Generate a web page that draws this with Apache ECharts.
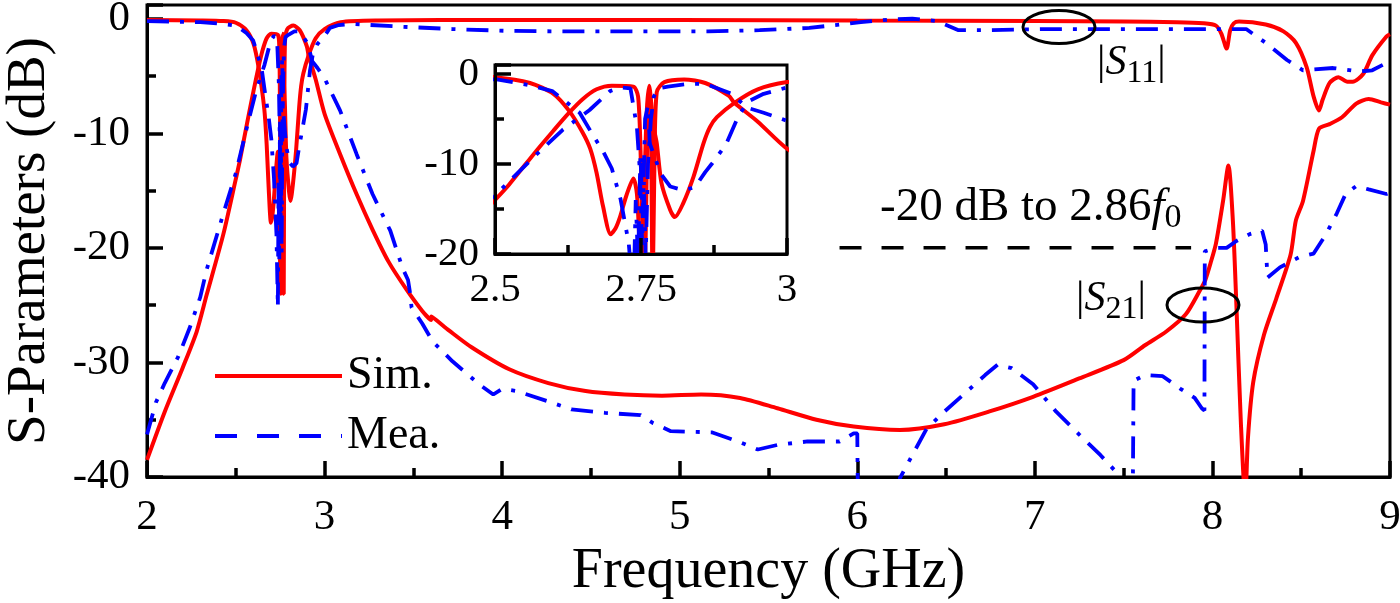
<!DOCTYPE html>
<html>
<head>
<meta charset="utf-8">
<script src="https://cdn.jsdelivr.net/npm/echarts@6/dist/echarts.min.js"></script>
<style>
  html, body { margin: 0; padding: 0; background: #fff; }
  #chart { width: 1400px; height: 603px; }
</style>
</head>
<body>
<div id="chart"></div>
<script>
// 1. data: [frequency GHz, dB]
const simS11 = [
  [2.0,-0.1],[2.3,-0.15],[2.43,-0.2],[2.5,-0.35],[2.56,-1.0],[2.6,-2.2],[2.627,-4.1],[2.65,-6.5],
  [2.663,-8.3],[2.674,-11.0],[2.685,-14.7],[2.698,-17.8],[2.706,-17.2],[2.714,-15.9],[2.725,-13.5],
  [2.737,-11.6],[2.743,-13.3],[2.748,-19.6],[2.752,-23.5],[2.756,-12],[2.76,-4],[2.764,-1.3],
  [2.768,-3.5],[2.772,-6],[2.777,-7.7],[2.785,-12.1],[2.8,-15.1],[2.808,-15.9],[2.822,-14.4],
  [2.84,-11.4],[2.857,-7.7],[2.868,-5.9],[2.88,-4.8],[2.91,-3.2],[2.95,-1.7],[3.0,-0.9],[3.09,-0.3],
  [3.3,-0.15],[4.0,-0.1],[5.0,-0.1],[6.0,-0.15],[7.0,-0.2],[7.5,-0.25],[7.8,-0.3],[7.95,-0.4],
  [8.02,-0.6],[8.05,-1.3],[8.08,-2.6],[8.1,-1.0],[8.12,-0.4],[8.15,-0.25],[8.3,-0.5],[8.4,-1.1],
  [8.47,-2.1],[8.53,-4.2],[8.57,-6.8],[8.6,-8.0],[8.62,-7.1],[8.66,-5.6],[8.71,-5.1],[8.76,-5.5],
  [8.79,-5.5],[8.85,-4.8],[8.9,-3.2],[8.98,-1.55],[9.0,-1.35]
];
const simS21 = [
  [2.0,-38.5],[2.1,-34.3],[2.2,-30.5],[2.28,-27.3],[2.336,-24.1],[2.43,-18.8],[2.5,-14.0],
  [2.524,-12.3],[2.57,-8.6],[2.6,-6.3],[2.627,-4.3],[2.65,-2.8],[2.674,-1.7],[2.7,-1.3],[2.737,-1.4],
  [2.745,-2.5],[2.749,-8],[2.752,-16],[2.755,-24],[2.758,-18],[2.761,-6],[2.764,-1.5],[2.767,-6],
  [2.77,-24],[2.773,-10],[2.777,-2.0],[2.79,-0.9],[2.824,-0.6],[2.86,-1.0],[2.9,-2.4],[2.91,-3.2],
  [2.95,-5.3],[3.0,-8.3],[3.087,-11.8],[3.18,-15.3],[3.27,-18.4],[3.36,-21.2],[3.46,-23.6],
  [3.55,-25.5],[3.6,-26.3],[3.601,-26.0],[3.7,-27.2],[3.83,-28.7],[4.04,-30.6],[4.26,-31.8],
  [4.47,-32.5],[4.69,-32.8],[4.9,-32.9],[5.12,-32.8],[5.34,-33.1],[5.55,-34.0],[5.77,-35.0],
  [5.98,-35.6],[6.24,-35.9],[6.49,-35.4],[6.74,-34.3],[6.99,-33.0],[7.25,-31.4],[7.5,-29.8],
  [7.62,-28.5],[7.74,-27.3],[7.85,-25.8],[7.93,-23.7],[7.96,-22.8],[7.99,-21.3],[8.02,-19.6],
  [8.06,-15.9],[8.09,-12.8],[8.115,-17.6],[8.135,-25],[8.16,-35.2],[8.185,-42],[8.2,-36.6],
  [8.23,-31.7],[8.29,-27.6],[8.36,-24.4],[8.44,-20.6],[8.47,-17.6],[8.51,-15.9],[8.57,-11.5],
  [8.6,-9.6],[8.66,-9.2],[8.73,-8.6],[8.81,-7.4],[8.88,-7.0],[8.95,-7.3],[9.0,-7.5]
];
const meaS11 = [
  [2.0,-0.2],[2.3,-0.3],[2.43,-0.45],[2.503,-0.6],[2.56,-1.25],[2.598,-1.9],[2.62,-3.0],[2.645,-4.3],
  [2.665,-6.5],[2.686,-8.7],[2.7,-10.5],[2.715,-13.9],[2.729,-18.8],[2.737,-25.2],[2.741,-14],
  [2.745,-21],[2.749,-9],[2.753,-16],[2.757,-5],[2.762,-3.5],[2.765,-7.7],[2.775,-9.5],[2.783,-11],
  [2.8,-12.5],[2.822,-12.9],[2.842,-12.6],[2.86,-10.9],[2.871,-10],[2.895,-7.9],[2.918,-4.5],
  [2.935,-3.0],[2.96,-2.2],[3.0,-1.5],[3.03,-0.8],[3.08,-0.55],[3.15,-0.45],[3.44,-0.7],[3.72,-0.9],
  [4.01,-1.05],[4.3,-1.1],[4.87,-1.1],[5.16,-1.1],[5.45,-1.0],[5.73,-0.8],[6.02,-0.3],[6.2,-0.05],
  [6.31,0.0],[6.45,-0.2],[6.57,-1.0],[6.74,-1.0],[7.03,-0.9],[7.34,-0.9],[7.83,-0.9],[8.19,-0.9],
  [8.3,-2.1],[8.42,-3.6],[8.51,-4.5],[8.68,-4.3],[8.83,-4.6],[8.9,-4.5],[9.0,-3.7]
];
const meaS21 = [
  [2.0,-36.3],[2.05,-33.5],[2.1,-31.8],[2.176,-29.5],[2.24,-27.0],[2.3,-24.3],[2.336,-21.9],
  [2.43,-17.0],[2.5,-13.5],[2.57,-9.0],[2.616,-6.2],[2.662,-4.0],[2.697,-1.9],[2.715,-1.5],
  [2.732,-1.6],[2.743,-5.9],[2.748,-10.7],[2.752,-19],[2.755,-12],[2.758,-20.5],[2.762,-10],
  [2.767,-5],[2.772,-2.5],[2.78,-1.6],[2.796,-1.4],[2.83,-1.1],[2.86,-1.1],[2.906,-2.2],[2.93,-3.7],
  [2.96,-4.3],[3.0,-5.2],[3.087,-8.0],[3.18,-11.8],[3.27,-15.3],[3.37,-18.5],[3.44,-21.8],
  [3.47,-22.8],[3.48,-23.8],[3.49,-25.2],[3.55,-26.6],[3.61,-28.2],[3.72,-29.9],[3.87,-31.9],
  [3.95,-32.8],[4.0,-32.3],[4.08,-32.5],[4.26,-33.4],[4.39,-34.1],[4.58,-34.4],[4.78,-34.6],
  [4.85,-35.3],[4.95,-36.0],[5.18,-36.1],[5.33,-36.9],[5.44,-37.6],[5.55,-37.2],[5.72,-36.9],
  [5.9,-36.9],[5.98,-36.2],[6.0,-36.2],[6.005,-45],[6.235,-45],[6.24,-40.1],[6.32,-37.8],
  [6.39,-35.8],[6.49,-34.3],[6.62,-32.5],[6.72,-31.1],[6.79,-30.2],[6.87,-30.5],[6.99,-31.9],
  [7.12,-34.3],[7.25,-36.3],[7.37,-38.1],[7.46,-39.6],[7.475,-45],[7.55,-45],[7.556,-31.6],
  [7.62,-31.1],[7.72,-31.2],[7.82,-32.3],[7.9,-33.1],[7.94,-34.0],[7.955,-34.2],[7.957,-20.3],
  [8.02,-20.0],[8.08,-20.0],[8.135,-19.4],[8.21,-18.8],[8.28,-18.5],[8.3,-19.7],[8.31,-22.6],
  [8.38,-21.7],[8.49,-20.8],[8.57,-20.5],[8.64,-18.8],[8.7,-17.0],[8.75,-15.3],[8.81,-14.6],
  [8.88,-14.9],[8.98,-15.3],[9.0,-15.2]
];
// -20 dB guide line, from / to
const boundLine = [[5.9, -20], [7.88, -20]];

// axis ranges
const mainX = [2, 9], mainY = [-40, 1.2];
const insetX = [2.5, 3], insetY = [-20, 1];

const FONT = 'Liberation Serif';
const RED = '#ff0000', BLUE = '#0000ff';

// 2. helpers
function axisCommon(fs) {
  return {
    axisLine: { show: true, onZero: false, lineStyle: { color: '#000', width: 3 } },
    axisTick: { show: true, inside: true, length: 16, lineStyle: { color: '#000', width: 3.5 } },
    minorTick: { show: true, splitNumber: 2, length: 9, lineStyle: { color: '#000', width: 3.5 } },
    splitLine: { show: false },
    axisLabel: { color: '#000', fontFamily: FONT, fontSize: fs }
  };
}
function yLabel(v) {
  return (Math.abs(v % 10) < 1e-9) ? String(v) : '';
}
function simLine(data, idx) {
  return { name: 'Sim.', type: 'line', data: data, xAxisIndex: idx, yAxisIndex: idx,
    symbol: 'none', clip: true, z: idx ? 6 : 3, smooth: 0.25,
    lineStyle: { color: RED, width: 4 }, itemStyle: { color: RED } };
}
function meaLine(data, idx) {
  return { name: 'Mea.', type: 'line', data: data, xAxisIndex: idx, yAxisIndex: idx,
    symbol: 'none', clip: true, z: idx ? 7 : 4,
    lineStyle: { color: BLUE, width: 3.8, type: [22, 11, 4, 11] }, itemStyle: { color: BLUE } };
}
function richText(size, sub, subPad) {
  return {
    n: { fontFamily: FONT, fontSize: size, fill: '#000', verticalAlign: 'top' },
    i: { fontFamily: FONT, fontSize: size, fontStyle: 'italic', fill: '#000', verticalAlign: 'top' },
    s: { fontFamily: FONT, fontSize: sub, fill: '#000', verticalAlign: 'top', padding: [subPad, 0, 0, 0] }
  };
}

const chart = echarts.init(document.getElementById('chart'), null, { renderer: 'canvas' });

const xMain = Object.assign(axisCommon(43), {
  type: 'value', gridIndex: 0, position: 'bottom',
  min: mainX[0], max: mainX[1], interval: 1,
  name: 'Frequency (GHz)', nameLocation: 'middle', nameGap: 65,
  nameTextStyle: { color: '#000', fontFamily: FONT, fontSize: 56 }
});
xMain.axisLabel.margin = 19;
const yMain = Object.assign(axisCommon(43), {
  type: 'value', gridIndex: 0, position: 'left',
  min: mainY[0], max: mainY[1], interval: 10,
  name: 'S-Parameters (dB)', nameLocation: 'middle', nameGap: 90, nameRotate: 90,
  nameTextStyle: { color: '#000', fontFamily: FONT, fontSize: 55 }
});
yMain.axisLabel.formatter = yLabel;
yMain.axisLabel.margin = 17;

// inset axes sit above the inset's white background
const xInset = Object.assign(axisCommon(41), {
  type: 'value', gridIndex: 1, position: 'bottom', z: 10,
  min: insetX[0], max: insetX[1], interval: 0.25
});
xInset.axisLabel.margin = 16;
const yInset = Object.assign(axisCommon(41), {
  type: 'value', gridIndex: 1, position: 'left', z: 10,
  min: insetY[0], max: insetY[1], interval: 10
});
yInset.axisLabel.formatter = yLabel;
yInset.axisLabel.margin = 16;

chart.setOption({
  animation: false,
  backgroundColor: '#fff',
  grid: [
    { left: 147, right: 10, top: 5, bottom: 126, show: true, borderColor: '#000', borderWidth: 3,
      backgroundColor: 'transparent', outerBoundsMode: 'none', containLabel: false },
    { left: 495, top: 65, width: 292, height: 189, show: true, borderColor: '#000', borderWidth: 3,
      backgroundColor: '#fff', z: 5, outerBoundsMode: 'none', containLabel: false }
  ],
  xAxis: [xMain, xInset],
  yAxis: [yMain, yInset],
  legend: {
    data: [
      { name: 'Sim.' },
      { name: 'Mea.', lineStyle: { type: [22, 20], width: 4 } }
    ],
    orient: 'vertical', left: 208, top: 348,
    itemWidth: 127, itemHeight: 20, itemGap: 14, selectedMode: false,
    itemStyle: { opacity: 0 },
    lineStyle: { width: 4 },
    textStyle: { color: '#000', fontFamily: FONT, fontSize: 46 }
  },
  series: [
    simLine(simS11, 0), simLine(simS21, 0), meaLine(meaS11, 0), meaLine(meaS21, 0),
    simLine(simS11, 1), simLine(simS21, 1), meaLine(meaS11, 1), meaLine(meaS21, 1),
    { name: 'bound', type: 'line', data: boundLine, xAxisIndex: 0, yAxisIndex: 0, symbol: 'none',
      z: 2, lineStyle: { color: '#000', width: 3.5, type: [22, 20] } }
  ],
  graphic: [
    { type: 'ellipse', shape: { cx: 1059, cy: 27, rx: 36, ry: 16.5 }, z: 20,
      style: { fill: 'none', stroke: '#000', lineWidth: 3 } },
    { type: 'ellipse', shape: { cx: 1203, cy: 305, rx: 36, ry: 17 }, z: 20,
      style: { fill: 'none', stroke: '#000', lineWidth: 3 } },
    { type: 'text', z: 20, x: 1097, y: 42,
      style: { text: '{n||}{i|S}{s|11}{n||}', rich: richText(42, 32, 16) } },
    { type: 'text', z: 20, x: 1076, y: 278,
      style: { text: '{n||}{i|S}{s|21}{n||}', rich: richText(42, 32, 16) } },
    { type: 'text', z: 20, x: 880, y: 184,
      style: { text: '{n|-20 dB to 2.86}{i|f}{s|0}', rich: richText(47, 34, 17) } }
  ]
});
</script>
</body>
</html>
